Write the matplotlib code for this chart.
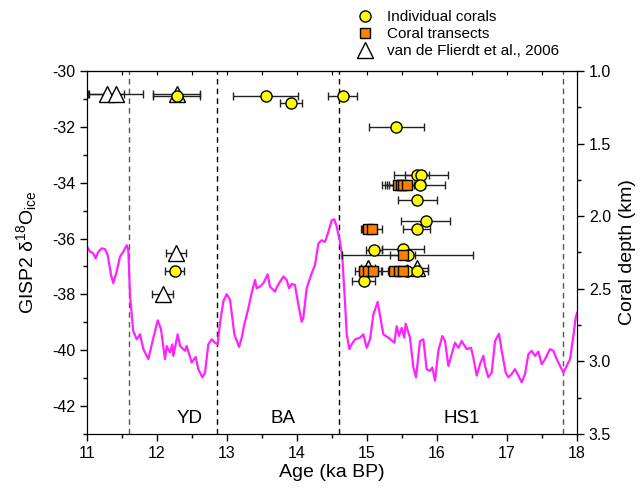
import matplotlib
matplotlib.use("Agg")
import matplotlib.pyplot as plt
from matplotlib.lines import Line2D
from matplotlib.ticker import MultipleLocator, FormatStrFormatter

# GISP2 ice core d18O record
ice_age = [11.0, 11.043, 11.09, 11.124, 11.162, 11.21, 11.257, 11.295, 11.343, 11.376,
           11.424, 11.471, 11.519, 11.567, 11.59, 11.614, 11.66, 11.71, 11.757, 11.805,
           11.876, 11.948, 12.01, 12.057, 12.114, 12.138, 12.186, 12.219, 12.233, 12.295,
           12.33, 12.40, 12.424, 12.495, 12.552, 12.59, 12.648, 12.686, 12.733, 12.781,
           12.828, 12.867, 12.90, 12.948, 12.995, 13.043, 13.105, 13.171, 13.21, 13.248,
           13.305, 13.352, 13.4, 13.424, 13.471, 13.519, 13.581, 13.614, 13.686, 13.724,
           13.805, 13.852, 13.886, 13.924, 13.971, 14.019, 14.067, 14.09, 14.138, 14.21,
           14.257, 14.305, 14.352, 14.4, 14.448, 14.495, 14.533, 14.567, 14.614, 14.648,
           14.686, 14.71, 14.748, 14.781, 14.829, 14.9, 14.948, 14.995, 15.043, 15.09,
           15.152, 15.2, 15.233, 15.305, 15.39, 15.424, 15.457, 15.495, 15.533, 15.552,
           15.614, 15.662, 15.7, 15.757, 15.805, 15.852, 15.9, 15.933, 15.971, 16.019,
           16.076, 16.114, 16.162, 16.21, 16.257, 16.305, 16.352, 16.424, 16.486, 16.519,
           16.567, 16.614, 16.662, 16.686, 16.733, 16.781, 16.829, 16.886, 16.924, 16.981,
           17.019, 17.067, 17.114, 17.162, 17.21, 17.257, 17.305, 17.352, 17.4, 17.448,
           17.495, 17.543, 17.614, 17.662, 17.71, 17.757, 17.805, 17.852, 17.9, 17.948,
           17.98, 18.0]
ice_d18o = [-36.29, -36.47, -36.53, -36.71, -36.47, -36.35, -36.38, -36.59, -37.3, -37.6,
            -37.18, -36.65, -36.47, -36.24, -36.41, -38.01, -39.31, -39.61, -39.43, -39.96,
            -40.32, -39.55, -38.93, -39.25, -40.32, -39.85, -40.08, -39.79, -40.2, -39.43,
            -39.85, -40.02, -39.85, -40.44, -40.24, -40.68, -40.97, -40.8, -39.79, -39.61,
            -39.73, -39.79, -39.02, -38.25, -37.99, -38.19, -39.43, -39.88, -39.55, -39.07,
            -38.5, -37.95, -37.48, -37.78, -37.72, -37.6, -37.28, -37.72, -37.9, -37.68,
            -37.36, -37.48, -37.78, -37.63, -37.66, -38.37, -38.98, -38.84, -37.78, -37.24,
            -36.95, -36.18, -36.06, -36.12, -35.76, -35.35, -35.31, -35.58, -36.12, -36.71,
            -38.3, -39.43, -39.96, -39.79, -39.61, -39.55, -39.43, -39.91, -39.61, -38.72,
            -38.27, -38.96, -39.43, -39.55, -39.73, -39.14, -39.49, -39.2, -39.55, -39.05,
            -39.55, -40.62, -40.97, -39.67, -39.61, -40.68, -40.74, -40.62, -41.09, -40.02,
            -39.49, -39.67, -40.56, -40.14, -39.73, -39.91, -39.67, -39.96, -39.91, -40.26,
            -40.91, -40.5, -40.2, -40.56, -40.97, -40.8, -39.67, -39.41, -40.02, -40.8,
            -40.97, -40.85, -40.68, -40.91, -41.15, -40.85, -40.14, -40.02, -40.2, -40.05,
            -40.5, -40.32, -39.96, -40.02, -40.32, -40.56, -40.8, -40.56, -40.32, -39.49,
            -38.84, -38.66]

# individual corals: age (ka), depth (km), age error
coral_age = [12.28, 13.55, 13.91, 14.65, 15.42, 15.71, 15.77, 15.75, 15.72, 15.84,
             15.71, 15.10, 15.51, 15.58, 15.57, 15.72, 14.95, 12.25]
coral_depth = [1.17, 1.17, 1.22, 1.175, 1.383, 1.716, 1.716, 1.785, 1.888, 2.031,
               2.088, 2.233, 2.228, 2.267, 2.377, 2.377, 2.444, 2.377]
coral_err = [0.34, 0.47, 0.16, 0.21, 0.39, 0.17, 0.38, 0.36, 0.28, 0.35,
             0.19, 0.12, 0.30, 0.94, 0.15, 0.15, 0.16, 0.14]

# coral transects
transect_age = [15.44, 15.48, 15.52, 15.57, 15.02, 15.07, 15.51, 14.96, 15.02, 15.08,
                15.38, 15.45, 15.52]
transect_depth = [1.785, 1.785, 1.785, 1.785, 2.088, 2.088, 2.267, 2.377, 2.377, 2.377,
                  2.377, 2.377, 2.377]
transect_err = [0.23, 0.23, 0.24, 0.26, 0.11, 0.14, 0.18, 0.13, 0.14, 0.12,
                0.16, 0.15, 0.14]

# van de Flierdt et al., 2006
vdf_age = [11.28, 11.41, 12.28, 12.27, 12.08, 15.02, 15.72]
vdf_depth = [1.16, 1.16, 1.16, 2.251, 2.535, 2.36, 2.36]
vdf_err = [0.25, 0.39, 0.34, 0.14, 0.15, 0.10, 0.15]

# stadial / interstadial boundaries and names
boundaries = [11.6, 12.85, 14.6, 17.8]
boundary_colors = ["#555555", "black", "black", "#555555"]
periods = ["YD", "BA", "HS1"]
period_centers = [12.47, 13.8, 16.36]

legend_labels = ["Individual corals", "Coral transects", "van de Flierdt et al., 2006"]


def main():
    plt.rcParams["font.family"] = ["Liberation Sans", "DejaVu Sans"]
    plt.rcParams["mathtext.default"] = "regular"
    plt.rcParams["axes.unicode_minus"] = False

    fig = plt.figure(figsize=(6.44, 4.95), dpi=100)
    ax = fig.add_axes([0.1351, 0.1232, 0.7609, 0.7334])
    ax2 = ax.twinx()

    ax.plot(ice_age, ice_d18o, color="#FF22FF", lw=1.6, zorder=2)

    for x, c in zip(boundaries, boundary_colors):
        ax.axvline(x, color=c, lw=1, ls=(0, (4, 3)), zorder=1)

    for name, x in zip(periods, period_centers):
        ax.text(x, -42.45, name, ha="center", va="center", fontsize=13.5)

    ax.set_xlim(11, 18)
    ax.set_ylim(-43, -30)
    ax.xaxis.set_major_locator(MultipleLocator(1))
    ax.xaxis.set_minor_locator(MultipleLocator(0.5))
    ax.set_yticks([-42, -40, -38, -36, -34, -32, -30])
    ax.yaxis.set_minor_locator(MultipleLocator(1))
    ax.tick_params(which="both", direction="out", labelsize=11.5, width=1)
    ax.tick_params(which="major", length=5)
    ax.tick_params(which="minor", length=3)
    ax.set_xlabel("Age (ka BP)", fontsize=14, labelpad=2)
    ax.set_ylabel("GISP2 δ$^{18}$O$_{ice}$", fontsize=14, labelpad=9)

    top = ax.secondary_xaxis("top")
    top.xaxis.set_major_locator(MultipleLocator(0.5))
    top.tick_params(direction="in", length=3, labeltop=False)

    # error bars below all markers
    ax2.errorbar(vdf_age, vdf_depth, xerr=vdf_err, fmt="none", ecolor="#222222",
                 elinewidth=1, capsize=3, capthick=1, zorder=2)
    ax2.errorbar(coral_age, coral_depth, xerr=coral_err, fmt="none", ecolor="#222222",
                 elinewidth=1, capsize=3, capthick=1, zorder=2)
    ax2.errorbar(transect_age, transect_depth, xerr=transect_err, fmt="none",
                 ecolor="#222222", elinewidth=1, capsize=3, capthick=1, zorder=2)

    ax2.plot(vdf_age, vdf_depth, "^", ms=12, mfc="white", mec="black", mew=1, zorder=3)
    ax2.plot(coral_age, coral_depth, "o", ms=8, mfc="#FFFF00", mec="black", mew=1, zorder=4)
    ax2.plot(transect_age, transect_depth, "s", ms=7, mfc="#FF8000", mec="black", mew=1,
             zorder=5)

    ax2.set_ylim(3.5, 1.0)
    ax2.yaxis.set_major_locator(MultipleLocator(0.5))
    ax2.yaxis.set_minor_locator(MultipleLocator(0.25))
    ax2.yaxis.set_major_formatter(FormatStrFormatter("%.1f"))
    ax2.tick_params(which="both", direction="out", labelsize=11.5, width=1)
    ax2.tick_params(which="major", length=5)
    ax2.tick_params(which="minor", length=3)
    ax2.set_ylabel("Coral depth (km)", fontsize=14, labelpad=6)

    handles = [
        Line2D([], [], ls="none", marker="o", ms=8, mfc="#FFFF00", mec="black"),
        Line2D([], [], ls="none", marker="s", ms=7, mfc="#FF8000", mec="black"),
        Line2D([], [], ls="none", marker="^", ms=12, mfc="white", mec="black"),
    ]
    fig.legend(handles, legend_labels, loc="upper left", bbox_to_anchor=(0.555, 0.98),
               frameon=False, fontsize=11, handlelength=1.0, handletextpad=0.95,
               labelspacing=0.2, borderpad=0, borderaxespad=0)

    fig.savefig("out.png", dpi=100)


if __name__ == "__main__":
    main()
